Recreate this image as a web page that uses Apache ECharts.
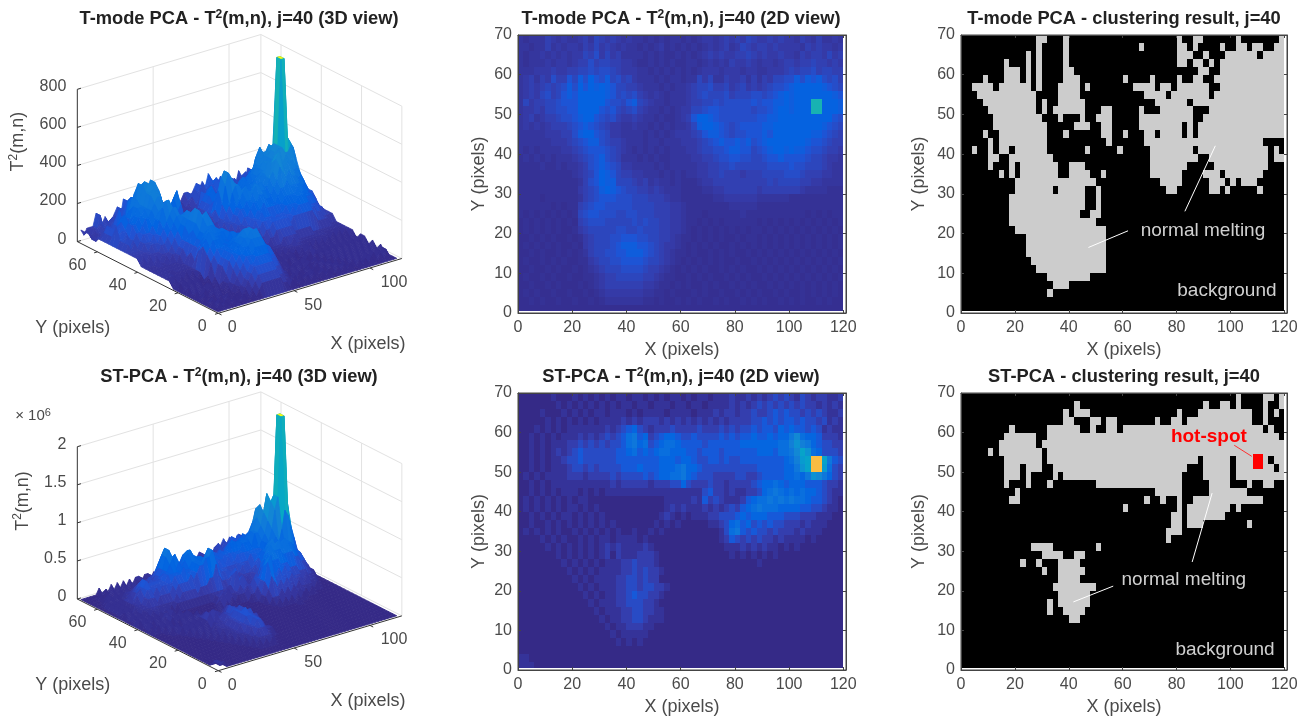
<!DOCTYPE html>
<html><head><meta charset="utf-8">
<style>html,body{margin:0;padding:0;background:#fff}#c{width:1312px;height:719px}</style>
<script src="https://cdn.jsdelivr.net/npm/echarts@6/dist/echarts.min.js"></script>
</head><body><div id="c"></div>
<script>
// ---------- DATA: T^2 value levels on a 2x2 pixel lattice, top row y=69 ... bottom row y=1 (base-36 digit per cell)
const tmodeRows = [
"2122243232 2342543432 3221212122 1212332343 4354334343 3243242232",
"2212242323 3243534323 2212123121 2121232342 3543443433 3324343323",
"2122323232 3354635342 2221212112 1212343433 4454343343 3243443534",
"2122232332 3446455443 3211212121 1221232324 3343233234 4344544343",
"2223334334 4556566543 3322121212 1212333233 3233223334 5455645544",
"2342436447 5869768564 5322212122 1225352243 3424243556 6868786564",
"2343454568 6a7a8a8755 4432221212 2345564453 4534345667 8a99a98765",
"2343564578 7a9a9a8756 5643232122 2345655564 5556656789 899aabb987",
"2534455677 799a997665 7854322122 2344556566 6667677889 89abppba98",
"2334355667 79a9976754 5643221212 3355677666 6665667899 89abppcba8",
"2342344566 7899765643 3432212112 3479a87666 6666778899 9abbaab976",
"2323234445 6787654332 2322121212 2358a98765 6777788a9a aa9a998765",
"2222233344 6899765332 2221212123 3345788765 6677787ab9 a9a9887654",
"2222223334 5678865443 2221221222 3334567877 8786789bca 9a98776544",
"2121222233 4567776543 2121212122 2334556678 8775678a98 9887665443",
"1212121222 3456786542 2212121122 2233445667 7665567787 7776554332",
"1111211212 2346787653 3222212122 2223344556 5555556666 7665554322",
"1111111111 2345798754 4332221212 1223344544 4344455556 6654443322",
"1111111111 1246798855 5434232212 1112334444 4444445455 5544332222",
"1111111111 1345689876 5544343222 1111223344 4444344444 4432222111",
"1111011111 1245677766 6555444322 1111112233 3333222222 1111111111",
"1111110101 1456776666 6555544433 2111111112 2222111111 1111111111",
"1010101010 1567766655 6655544433 2111011111 1211111111 1110101011",
"0101010101 0456665555 5656554433 2110101011 1111010101 0101010101",
"0101010100 1345555566 5565554433 2101010101 0101101010 1010101010",
"0010101001 0134555667 7766554432 1101010100 1011010101 0101010101",
"0101010100 1034555678 8877654332 1010101001 0101010101 0101010101",
"0010100101 0124556677 8887654321 1010010101 0010101010 1010101010",
"0100101010 0113455667 7776554321 0101010100 1001010101 0101010101",
"0010010100 1012345556 6665443210 1010100101 0100101010 1010101010",
"0100101001 0011234455 5554432110 0101010010 1010010101 0101010101",
"0010010100 0101234444 4443321101 0100101001 0101001010 1010101010",
"0101001001 0010123333 3332211010 0010100100 1010100101 0010101010",
"0010100100 1001012222 2221101001 0101001010 0101010010 1010010100",
"0000000000 0000000000 0000000000 0000000000 0000000000 0000000000"];
const stRows = [
"0000001000 1010101011 0110101011 0101101112 1121212323 2132122112",
"0000000101 0101010101 1011011101 1011011112 1212323232 3232212121",
"0000100010 1010110111 0101111011 1101112122 1223223434 3323232112",
"0000010101 0101011112 1212221212 1212121212 2223343434 4343323121",
"0001010101 1111112123 4532122232 2223222323 2334344354 5443431211",
"0010101011 1212123234 6745234554 3343333434 3445445455 7965542221",
"0010101112 2323232334 6756345665 4444344444 4555555566 8a87543322",
"0010101212 3433333344 5645456655 5443444344 4444555466 79ca653332",
"0010101123 3433333344 4444445554 5543344343 3444444445 68bcppc743",
"0010101112 3323233334 4454445556 7554333333 3333444445 57acppb632",
"0101011112 2212222323 3334345566 7543332222 3322344445 5657a97532",
"0010101111 1111111212 2222122233 5322232212 2223455654 5554443221",
"0010101011 1010101111 1111111111 1111342212 1122356765 6565543211",
"0101010101 0110000000 0000000111 1121423211 1245667676 7665443210",
"0101010101 1010100000 0000000121 2111212123 2456766655 5544332110",
"0010101011 0101010000 0000001210 1011122333 4545554443 3322211100",
"0010010101 0101010100 0000010101 0000011235 6453434332 2212111000",
"0101010100 1010101010 0100101000 0000000136 7434332322 2121110000",
"0000101010 0101011011 1101000000 0000000124 3232322121 1110100000",
"0000010101 0101012121 1112100000 0000000011 1212121101 0100000000",
"0000000101 0101012021 1122210000 0000000001 0101010100 0000000000",
"0000000010 1010101112 2322210000 0000000000 0000100000 0000000000",
"0000000001 0101011112 2323221000 0000000000 0000000000 0000000000",
"0000000000 1010111122 3323220000 0000000000 0000000000 0000000000",
"0000000000 0101011122 3323322100 0000000000 0000000000 0000000000",
"0000000000 0010101122 3433221000 0000000000 0000000000 0000000000",
"0000000000 0001011122 3332210000 0000000000 0000000000 0000000000",
"0000000000 0000101112 2332211000 0000000000 0000000000 0000000000",
"0000000000 0000010112 2332111000 0000000000 0000000000 0000000000",
"0000000000 0000001011 2221100000 0000000000 0000000000 0000000000",
"0000000000 0000000101 1111000000 0000000000 0000000000 0000000000",
"0000000000 0000000010 1010000000 0000000000 0000000000 0000000000",
"0000000000 0000000000 0000000000 0000000000 0000000000 0000000000",
"1100000000 0000000000 0000000000 0000000000 0000000000 0000000000",
"1110000000 0000000000 0000000000 0000000000 0000000000 0000000000"];
const tmodeLevel = 32, stLevel = 80000;

// Cluster masks: one string per 2-pixel row (y=68..70 first), runs of 2-pixel columns
const tmodeClusterRuns = [
"14-15 19 40 43-44 51 59",
"14 19 33 40-41 43 48 51-52 54-55 58-59",
"12 14 19 40-42 45 49-52 53-54 56-59",
"8 12 14 19 40-41 43-44 46 48-59",
"8-10 12 14 19-20 44-45 48-59",
"4 8-10 12 14 19-21 30 35 40 43-44 47-59",
"2-5 7-12 14 18-21 23 32-35 37-38 40-42 43-45 48-59",
"3-6 7-13 18-21 34-37 39-45 47-59",
"4-13 15 18-22 36-41 43-59",
"5-13 15 17-22 26-27 33 37-42 46-59",
"6-14 18 22 25-27 33-42 45-59",
"6-15 21-23 26-27 33-40 42 44-59",
"4 7-15 19 26-27 30 34-35 37-40 42 44-59",
"5 7-8 9-15 27 34-36 37-42 43-55",
"2 5 7-8 10-14 15 23 29 35-42 44-56 58",
"5-6 9 10-15 16 35-43 46-56 58-59",
"5 9 11-17 20-22 35-39 40-41 47-56",
"7 9 11-17 20-23 26 35 36-40 45-47 49-55",
"10-23 24 37-40 46-48 50 52-54",
"10-16 18-22 25 38-39 46-47 49 55",
"9-22 25",
"9-22 25",
"9-21 24-25",
"9-24",
"10-24 25-26",
"12-26",
"12-26",
"12-26",
"13-26",
"14-26",
"16-22 23",
"17-19",
"16",
"",
""];
const stClusterRuns = [
"51 56-57 59",
"21 45 48-49 51 56 59",
"19 21-22 23 40 44-49 50-53 56 58",
"19-20 24-25 27-28 36 39-40 42-53 56",
"9 16-19 20-21 24 27-28 30-35 36-55 57",
"8-12 13 16-58",
"7-13 15-59",
"5 7-14 16-59",
"8-14 16-43 45-49 51-56 58-59",
"8-10 12-14 17-41 45-49 51-57 59",
"8-10 12 17 19-40 45-49 51-59",
"8 12 16 25-40 46-49 53 56-57",
"10 36-38 39-40 46-52",
"9 10 34 37 40 43-54 55",
"30 40 42-49 51",
"39-40 42-48",
"39-40 42-44 53",
"38-40",
"38",
"13-14 15-16 25",
"15-16 17-18 21-22",
"11 14 18 19-21",
"15 18-22",
"18-21",
"17 18-24",
"18-23",
"16 18-23",
"16 19-22",
"20-21",
"","","","","",""];
const hotSpotBox = [108.2, 50.7, 112, 54.7];

const xTicks2D = [0,20,40,60,80,100,120];
const yTicks2D = [0,10,20,30,40,50,60,70];
const xTicks3D = [0,50,100];
const yTicks3D = [0,20,40,60];
const zTicksT = [0,200,400,600,800];
const zTicksST = [0,500000,1000000,1500000,2000000];
const zLabelsST = ['0','0.5','1','1.5','2'];

const tmodeMeltLines = [[[47.3,16.5],[62,20.7]],[[94.4,42.1],[83.1,25.6]]];
const stMeltLines = [[[41.7,17.2],[56.5,21.2]],[[93.2,44.7],[85.8,27.3]]];
const hotLine = [[101.4,56.8],[107.9,54]];

// ---------- helpers
const parulaStops = [[0,'352a87'],[3,'353dad'],[6,'2053d4'],[8,'0363e1'],[12,'0d75dc'],[16,'1485d4'],[20,'0998d1'],[24,'06a7c6'],[28,'15b1b4'],[32,'38b99e'],[36,'65be86'],[40,'92bf73'],[44,'b7bd64'],[48,'d9ba56'],[52,'f8bb44'],[54,'ffc337'],[56,'fccd2e'],[60,'f5e41d'],[63,'f9fb0e']];
function parula(t){
  t=Math.max(0,Math.min(1,t))*63;
  for(let i=1;i<parulaStops.length;i++){
    if(t<=parulaStops[i][0]){
      const [a,ca]=parulaStops[i-1],[b,cb]=parulaStops[i],f=(t-a)/(b-a);
      const ch=k=>Math.round(parseInt(ca.substr(k,2),16)*(1-f)+parseInt(cb.substr(k,2),16)*f);
      return `rgb(${ch(0)},${ch(2)},${ch(4)})`;
    }
  }
  return '#f9fb0e';
}
const parseGrid=(rows,level)=>rows.map(r=>r.replace(/ /g,'').split('').map(c=>parseInt(c,36)*level));
const tmodeZ=parseGrid(tmodeRows,tmodeLevel), stZ=parseGrid(stRows,stLevel);

const FONT='"Liberation Sans", Arial, sans-serif';
const TICK='#4a4a4a', NAME='#4a4a4a', TITLE='#222', BOX='#444';
const xAxes=[], yAxes=[], grids=[], series=[], titles=[];

function title(parts,cx,cy){
  titles.push({text:parts,left:cx,top:cy-10,textAlign:'center',padding:0,
    textStyle:{rich:{b:{fontFamily:FONT,fontWeight:'bold',fontSize:18.3,color:TITLE,lineHeight:20},
      s:{fontFamily:FONT,fontWeight:'bold',fontSize:12,color:TITLE,verticalAlign:'top'}}}});
}

function textSeries(ax,ay,items){
  series.push({type:'custom',xAxisIndex:ax,yAxisIndex:ay,coordinateSystem:'cartesian2d',clip:false,z:8,silent:true,
    data:items.map(t=>[t.x,t.y]),encode:{x:0,y:1},
    renderItem(p,api){
      const t=items[p.dataIndex],pt=api.coord([api.value(0),api.value(1)]);
      return {type:'text',x:pt[0],y:pt[1],rotation:t.rot||0,style:{text:t.text,rich:t.rich,
        fill:t.color||NAME,font:`${t.weight||'normal'} ${t.size||16}px ${FONT}`,align:t.align||'center',verticalAlign:'middle'}};
    }});
}

function panel2D(left,top,right,bottom,yNameGap){
  const g=grids.length;
  grids.push({left,top,width:right-left,height:bottom-top,show:true,borderColor:BOX,borderWidth:1,backgroundColor:'#fff'});
  const base=xAxes.length, baseY=yAxes.length;
  const common={type:'value',gridIndex:g,z:10,splitLine:{show:false},axisLine:{show:true,onZero:false,lineStyle:{color:BOX,width:1}}};
  xAxes.push({...common,min:0,max:121,position:'bottom',
    axisTick:{show:true,inside:true,length:3,lineStyle:{color:BOX},customValues:xTicks2D},
    axisLabel:{show:true,customValues:xTicks2D,margin:7,color:TICK,fontFamily:FONT,fontSize:16},
    name:'X (pixels)',nameLocation:'middle',nameGap:28,nameTextStyle:{color:NAME,fontFamily:FONT,fontSize:18,verticalAlign:'top'}});
  yAxes.push({...common,min:0,max:70,position:'left',
    axisTick:{show:true,inside:true,length:3,lineStyle:{color:BOX},customValues:yTicks2D},
    axisLabel:{show:true,customValues:yTicks2D,margin:6,color:TICK,fontFamily:FONT,fontSize:16},
    name:'Y (pixels)',nameLocation:'middle',nameGap:yNameGap,nameTextStyle:{color:NAME,fontFamily:FONT,fontSize:18}});
  xAxes.push({...common,min:0,max:121,position:'top',axisLabel:{show:false},
    axisTick:{show:true,inside:true,length:3,lineStyle:{color:BOX},customValues:xTicks2D}});
  yAxes.push({...common,min:0,max:70,position:'right',axisLabel:{show:false},
    axisTick:{show:true,inside:true,length:3,lineStyle:{color:BOX},customValues:yTicks2D}});
  return [base,baseY];
}

function rectSeries(ax,ay,data,colorOf){
  series.push({type:'custom',xAxisIndex:ax,yAxisIndex:ay,coordinateSystem:'cartesian2d',silent:true,progressive:0,z:2,
    data,encode:{x:0,y:1},
    renderItem(p,api){
      const a=api.coord([api.value(0),api.value(1)]),b=api.coord([api.value(2),api.value(3)]);
      const x0=Math.round(a[0]),x1=Math.round(b[0]),y0=Math.round(b[1]),y1=Math.round(a[1]);
      return {type:'rect',shape:{x:x0,y:y0,width:x1-x0,height:y1-y0},style:{fill:colorOf(api.value(4))}};
    }});
}

function heatPanel(Z,colorOf,left,top,right,bottom){
  const [ax,ay]=panel2D(left,top,right,bottom,30);
  const data=[];
  Z.forEach((row,j)=>row.forEach((v,i)=>{
    const yTop=70-2*j; data.push([2*i,Math.max(yTop-2,0.5),2*i+2,yTop,v]);
  }));
  rectSeries(ax,ay,data,colorOf);
}

function clusterPanel(runs,left,top,right,bottom,lines,labels,hot){
  const [ax,ay]=panel2D(left,top,right,bottom,33);
  const data=[[0,0.5,120,70,0]];
  runs.forEach((r,j)=>{
    r.split(' ').filter(Boolean).forEach(s=>{
      const [a,b]=s.split('-').map(Number);
      const e=b===undefined?a:b;
      data.push([2*a,68-2*j,2*e+2,70-2*j,1]);
    });
  });
  if(hot) data.push([...hot,2]);
  rectSeries(ax,ay,data,v=>v===2?'#ff0000':v===1?'#cccccc':'#000000');
  lines.forEach(l=>series.push({type:'line',xAxisIndex:ax,yAxisIndex:ay,data:l.pts||l,symbol:'none',z:6,silent:true,
    lineStyle:{color:l.color||'#ffffff',width:1}}));
  textSeries(ax,ay,labels);
}

function surfacePanel(Z,zScale,clim3D,sideCap,top,oy,zTicks,zLabels,extra){
  const W=430,H=360;
  const g=grids.length;
  grids.push({left:0,top,width:W,height:H,show:false});
  const ax=xAxes.length, ay=yAxes.length;
  xAxes.push({type:'value',gridIndex:g,min:0,max:W,show:false});
  yAxes.push({type:'value',gridIndex:g,min:0,max:H,show:false});
  const Ox=218.3, Ou=H-oy;
  const proj=(x,y,z)=>[Ox+1.517*x-2.014*y, Ou+0.453*x+1.024*y+z*zScale];
  const zTop=zTicks[zTicks.length-1], XM=121, YM=70;
  const seg=(list,color,width,z)=>series.push({type:'custom',xAxisIndex:ax,yAxisIndex:ay,silent:true,clip:false,z,
    data:list.map(s=>[...proj(s[0],s[1],s[2]),...proj(s[3],s[4],s[5])]),encode:{x:0,y:1},
    renderItem(p,api){
      const a=api.coord([api.value(0),api.value(1)]),b=api.coord([api.value(2),api.value(3)]);
      return {type:'line',shape:{x1:a[0],y1:a[1],x2:b[0],y2:b[1]},style:{stroke:color,lineWidth:width}};
    }});
  // walls
  const wall=[];
  zTicks.forEach(z=>{wall.push([0,YM,z,XM,YM,z]);wall.push([XM,YM,z,XM,0,z]);});
  xTicks3D.filter(v=>v>0).forEach(x=>wall.push([x,YM,0,x,YM,zTop]));
  yTicks3D.filter(v=>v>0).forEach(y=>wall.push([XM,y,0,XM,y,zTop]));
  wall.push([XM,YM,0,XM,YM,zTop],[XM,0,0,XM,0,zTop]);
  seg(wall,'#e2e2e2',1,1);
  // facets, painted back to front
  const facets=[];
  const ny=Z.length,nx=Z[0].length;
  const X=i=>2*i+1, Y=j=>69-2*j;
  for(let j=0;j<ny-1;j++) for(let i=nx-2;i>=0;i--){
    const q=[[i,j],[i+1,j],[i+1,j+1],[i,j+1]];
    const row=[]; let sum=0, lo=Infinity;
    q.forEach(([a,b])=>{row.push(...proj(X(a),Y(b),Z[b][a]));sum+=Z[b][a];lo=Math.min(lo,Z[b][a]);});
    row.push(lo>=zTop*0.99?1:Math.min(sum/4/clim3D,sideCap));
    facets.push(row);
  }
  series.push({type:'custom',xAxisIndex:ax,yAxisIndex:ay,silent:true,clip:false,z:3,progressive:0,
    data:facets,encode:{x:0,y:1},
    renderItem(p,api){
      const pts=[0,2,4,6].map(k=>api.coord([api.value(k),api.value(k+1)]));
      const c=parula(api.value(8));
      return {type:'polygon',shape:{points:pts},style:{fill:c,stroke:c,lineWidth:0.8,lineJoin:'round'}};
    }});
  // axes
  const axes=[[0,0,0,XM,0,0],[0,0,0,0,YM,0],[0,YM,0,0,YM,zTop]];
  xTicks3D.forEach(x=>axes.push([x,0,0,x,-1.6,0]));
  yTicks3D.forEach(y=>axes.push([0,y,0,-2.2,y,0]));
  zTicks.forEach(z=>axes.push([0,YM,z,2.4,YM,z]));
  seg(axes,'#333',1,5);
  // tick labels
  const items=[];
  xTicks3D.forEach(x=>{const p=proj(x,0,0),off=[14,19,24][xTicks3D.indexOf(x)];items.push({x:p[0]+off,y:p[1]-14.5,text:String(x)});});
  yTicks3D.forEach(y=>{const p=proj(0,y,0),off=y===0?-16:-20;items.push({x:p[0]+off,y:p[1]-13.5,text:String(y)});});
  zTicks.forEach((z,k)=>{const p=proj(0,YM,z);items.push({x:p[0]-11,y:p[1]+2.5,text:zLabels[k],align:'right'});});
  items.push({x:proj(0,0,0)[0]-145.6,y:Ou-14.6,text:'Y (pixels)',size:18});
  items.push({x:proj(0,0,0)[0]+149.7,y:Ou-30.7,text:'X (pixels)',size:18});
  items.push(...extra(H,Ou));
  textSeries(ax,ay,items);
}

// colour curves of the two 2D views (peak teal for T-mode, orange for ST-PCA)
const tmodeHeat=v=>parula(v>=780?0.45:Math.min(0.012+Math.pow(v/800,1.3)*0.45,0.125));
const stHeat=v=>parula(Math.pow(v/2000000,1.12)*0.83);

// ---------- panels
const tRich={a:{fontFamily:FONT,fontSize:18,color:NAME,lineHeight:22},s:{fontFamily:FONT,fontSize:12,color:NAME,verticalAlign:'top'}};

surfacePanel(tmodeZ,152.3/800,1300,0.47,0,313.3,zTicksT,zTicksT.map(String),(H,Ou)=>[
  {x:18.5,y:H-141.7,text:'{a|T}{s|2}{a|(m,n)}',rich:tRich,rot:Math.PI/2}]);
heatPanel(tmodeZ,tmodeHeat,518,35,846,313);
clusterPanel(tmodeClusterRuns,961,35,1287,313,tmodeMeltLines,[
  {x:89.8,y:20.8,text:'normal melting',size:19,color:'#d0d0d0'},
  {x:98.7,y:5.6,text:'background',size:19,color:'#d0d0d0'}]);

surfacePanel(stZ,152.3/2000000,2800000,0.42,358,312.7,zTicksST,zLabelsST,(H,Ou)=>[
  {x:23,y:H-143,text:'{a|T}{s|2}{a|(m,n)}',rich:tRich,rot:Math.PI/2},
  {x:33,y:H-58,text:'{m|\u00d7 10}{e|6}',rich:{m:{fontFamily:FONT,fontSize:15,color:NAME,lineHeight:18},e:{fontFamily:FONT,fontSize:11,color:NAME,verticalAlign:'top'}}}]);
heatPanel(stZ,stHeat,518,393,846,670);
clusterPanel(stClusterRuns,961,393,1287,670,[...stMeltLines,{pts:hotLine,color:'#ff3030'}],[
  {x:82.7,y:22.7,text:'normal melting',size:19,color:'#d0d0d0'},
  {x:98,y:5.2,text:'background',size:19,color:'#d0d0d0'},
  {x:92,y:59,text:'hot-spot',size:19,weight:'bold',color:'#ff0000'}],hotSpotBox);

title('{b|T-mode PCA - T}{s|2}{b|(m,n), j=40 (3D view)}',239,19);
title('{b|T-mode PCA - T}{s|2}{b|(m,n), j=40 (2D view)}',681,19);
title('{b|T-mode PCA - clustering result, j=40}',1124,19);
title('{b|ST-PCA - T}{s|2}{b|(m,n), j=40 (3D view)}',239,377);
title('{b|ST-PCA - T}{s|2}{b|(m,n), j=40 (2D view)}',681,377);
title('{b|ST-PCA - clustering result, j=40}',1124,377);

const chart=echarts.init(document.getElementById('c'),null,{renderer:'canvas'});
chart.setOption({animation:false,backgroundColor:'#fff',title:titles,grid:grids,xAxis:xAxes,yAxis:yAxes,series,tooltip:{show:false}});
</script></body></html>
